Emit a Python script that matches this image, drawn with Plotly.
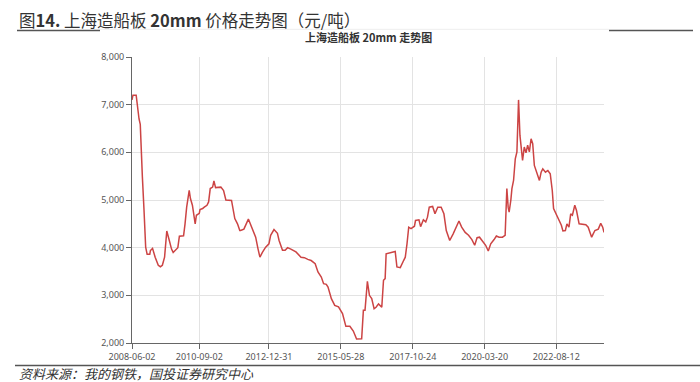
import plotly.graph_objects as go

dates = [
    "2008-06-02", "2008-06-14", "2008-07-23", "2008-08-10", "2008-08-27", "2008-09-11",
    "2008-09-19", "2008-10-07", "2008-10-27", "2008-11-16", "2008-12-04", "2009-01-05",
    "2009-01-13", "2009-02-08", "2009-03-12", "2009-04-19", "2009-05-15", "2009-06-08",
    "2009-07-05", "2009-07-17", "2009-08-01", "2009-09-01", "2009-09-28", "2009-10-18",
    "2009-11-17", "2009-12-14", "2010-01-02", "2010-02-22", "2010-03-12", "2010-04-01",
    "2010-05-02", "2010-05-17", "2010-06-10", "2010-06-29", "2010-07-14", "2010-07-29",
    "2010-09-02", "2010-09-11", "2010-10-13", "2010-11-02", "2010-12-05", "2010-12-25",
    "2011-01-14", "2011-02-12", "2011-02-28", "2011-03-20", "2011-04-21", "2011-05-24",
    "2011-06-26", "2011-07-24", "2011-10-01", "2011-10-17", "2011-11-10", "2011-12-13",
    "2012-01-10", "2012-01-20", "2012-02-09", "2012-02-29", "2012-04-24", "2012-06-12",
    "2012-07-22", "2012-08-19", "2012-09-12", "2012-10-12", "2012-11-21", "2012-12-31",
    "2013-01-21", "2013-03-03", "2013-04-14", "2013-05-04", "2013-06-15", "2013-07-17",
    "2013-08-16", "2013-09-25", "2013-11-26", "2014-01-27", "2014-03-09", "2014-04-20",
    "2014-05-31", "2014-07-19", "2014-08-22", "2014-10-02", "2014-10-30", "2014-12-02",
    "2014-12-23", "2015-02-02", "2015-03-15", "2015-04-30", "2015-06-18", "2015-07-29",
    "2015-09-16", "2015-10-28", "2015-12-07", "2016-02-07", "2016-02-28", "2016-03-19",
    "2016-03-31", "2016-04-17", "2016-05-12", "2016-06-09", "2016-07-08", "2016-08-01",
    "2016-08-31", "2016-10-10", "2016-10-31", "2016-11-20", "2016-12-02", "2017-01-01",
    "2017-02-11", "2017-03-23", "2017-04-13", "2017-05-24", "2017-07-05", "2017-07-24",
    "2017-08-14", "2017-09-04", "2017-10-02", "2017-11-13", "2017-11-26", "2018-01-07",
    "2018-01-27", "2018-03-02", "2018-03-31", "2018-04-21", "2018-05-13", "2018-06-23",
    "2018-07-22", "2018-08-25", "2018-10-05", "2018-11-08", "2018-12-07", "2019-01-18",
    "2019-03-01", "2019-04-11", "2019-05-11", "2019-06-13", "2019-07-26", "2019-09-05",
    "2019-10-16", "2019-11-19", "2019-12-18", "2020-01-17", "2020-02-19", "2020-04-01",
    "2020-05-03", "2020-06-02", "2020-07-13", "2020-08-10", "2020-09-12", "2020-10-23",
    "2020-11-25", "2020-12-16", "2021-01-01", "2021-01-13", "2021-02-03", "2021-02-16",
    "2021-03-08", "2021-03-29", "2021-04-18", "2021-05-08", "2021-05-25", "2021-06-10",
    "2021-06-26", "2021-07-17", "2021-08-07", "2021-08-27", "2021-09-17", "2021-10-08",
    "2021-10-28", "2021-11-17", "2021-12-28", "2022-01-18", "2022-02-08", "2022-02-28",
    "2022-04-02", "2022-05-01", "2022-05-30", "2022-06-24", "2022-07-10", "2022-08-12",
    "2022-09-13", "2022-10-13", "2022-11-01", "2022-12-01", "2022-12-20", "2023-01-14",
    "2023-02-04", "2023-02-25", "2023-03-26", "2023-04-16", "2023-05-18", "2023-06-29",
    "2023-08-08", "2023-09-06", "2023-10-18", "2023-11-06", "2023-11-27", "2024-01-07",
    "2024-02-06", "2024-03-01", "2024-03-17",
]

prices = [
    7100, 7200, 7200, 6880, 6700, 6585,
    6180, 5480, 4780, 4010, 3860, 3860,
    3940, 3985, 3800, 3630, 3600, 3630,
    3800, 4010, 4350, 4150, 3970, 3900,
    3960, 4000, 4240, 4250, 4500, 4850,
    5200, 5030, 4890, 4680, 4500, 4680,
    4720, 4800, 4820, 4850, 4890, 4960,
    5240, 5270, 5400, 5260, 5270, 5270,
    5200, 5000, 4990, 4860, 4610, 4500,
    4360, 4360, 4380, 4390, 4600, 4390,
    4220, 3980, 3800, 3900, 4010, 4080,
    4260, 4380, 4300, 4150, 3945, 3945,
    4000, 3970, 3910, 3800, 3790, 3755,
    3730, 3665, 3490, 3385, 3245, 3230,
    3175, 2930, 2790, 2760, 2617, 2350,
    2350, 2250, 2085, 2090, 2685, 2685,
    2895, 3295, 3000, 2930, 2720, 2750,
    2820, 2750, 3315, 3350, 3870, 3885,
    3900, 3920, 3595, 3580, 3735, 3800,
    4080, 4430, 4400, 4450, 4570, 4585,
    4440, 4585, 4540, 4640, 4850, 4865,
    4710, 4850, 4850, 4710, 4360, 4150,
    4290, 4430, 4560, 4430, 4320, 4260,
    4170, 4050, 4210, 4220, 4150, 4050,
    3930, 4080, 4170, 4245, 4220, 4220,
    4260, 5240, 4850, 4745, 5000, 5240,
    5410, 5865, 6010, 7100, 6355, 5990,
    5830, 6110, 5990, 6150, 6010, 6285,
    6180, 5725, 5515, 5410, 5585, 5655,
    5585, 5620, 5550, 5200, 4820, 4710,
    4570, 4470, 4350, 4360, 4500, 4430,
    4710, 4680, 4890, 4780, 4500, 4490,
    4480, 4430, 4220, 4290, 4360, 4390,
    4510, 4430, 4320,
]

tick_dates = ["2008-06-02", "2010-09-02", "2012-12-31", "2015-05-28",
              "2017-10-24", "2020-03-20", "2022-08-12"]
y_ticks = [2000, 3000, 4000, 5000, 6000, 7000, 8000]

heading = "图<b>14.</b> 上海造船板 <b>20mm</b> 价格走势图（元/吨）"
chart_title = "<b>上海造船板 20mm 走势图</b>"
source = "<i>资料来源：我的钢铁，国投证券研究中心</i>"

FONT = "Noto Sans, Noto Sans CJK SC, sans-serif"
CJK = "Noto Sans CJK SC, sans-serif"

# plot area in page pixels
L, R, T, B = 132, 604, 57, 343
W, H = R - L, B - T


def px_x(px):
    return (px - L) / W


def px_y(py):
    return (B - py) / H


fig = go.Figure()
fig.add_trace(go.Scatter(
    x=dates, y=prices, mode="lines",
    line=dict(color="#cc4444", width=1.5),
    hoverinfo="x+y", showlegend=False,
))

fig.update_layout(
    width=700, height=382,
    margin=dict(l=L, r=700 - R, t=T, b=382 - B, autoexpand=False),
    paper_bgcolor="white", plot_bgcolor="white",
    font=dict(family=FONT, color="#555", size=9),
    xaxis=dict(
        type="date",
        range=["2008-06-02", "2024-03-17"],
        tickmode="array", tickvals=tick_dates, ticktext=tick_dates,
        showgrid=True, gridcolor="#e3e3e3", gridwidth=1,
        showline=True, linecolor="#666", linewidth=1,
        ticks="outside", ticklen=5, tickcolor="#666",
        tickfont=dict(size=9, color="#555"),
        zeroline=False,
    ),
    yaxis=dict(
        range=[2000, 8000],
        tickmode="array", tickvals=y_ticks,
        tickformat=",",
        showgrid=True, gridcolor="#e3e3e3", gridwidth=1,
        showline=True, linecolor="#666", linewidth=1,
        ticks="outside", ticklen=5, tickcolor="#666",
        tickfont=dict(size=9, color="#555"),
        zeroline=False,
    ),
)

fig.add_annotation(
    text=heading, xref="paper", yref="paper", x=px_x(17), y=px_y(20),
    xanchor="left", yanchor="middle", showarrow=False,
    font=dict(family=CJK, size=16.5, color="#333"),
)
fig.add_annotation(
    text=chart_title, xref="paper", yref="paper", x=0.5, y=px_y(37),
    xanchor="center", yanchor="middle", showarrow=False,
    font=dict(family=CJK, size=11, color="#333"),
)
fig.add_annotation(
    text=source, xref="paper", yref="paper", x=px_x(17), y=px_y(373),
    xanchor="left", yanchor="middle", showarrow=False,
    font=dict(family=CJK, size=13, color="#333"),
)

for x0, x1, yy, col, w in [
    (17, 100, 30.5, "#555", 1.5),
    (100, 609, 29.3, "#eeeeee", 1),
    (609, 693, 30.5, "#555", 1.5),
    (15, 700, 365.5, "#555", 1.5),
]:
    fig.add_shape(type="line", xref="paper", yref="paper",
                  x0=px_x(x0), x1=px_x(x1), y0=px_y(yy), y1=px_y(yy),
                  line=dict(color=col, width=w))

fig.write_html(
    "out.html",
    config={"displayModeBar": False},
    post_script="document.body.style.margin='0';document.body.style.overflow='hidden';",
)
